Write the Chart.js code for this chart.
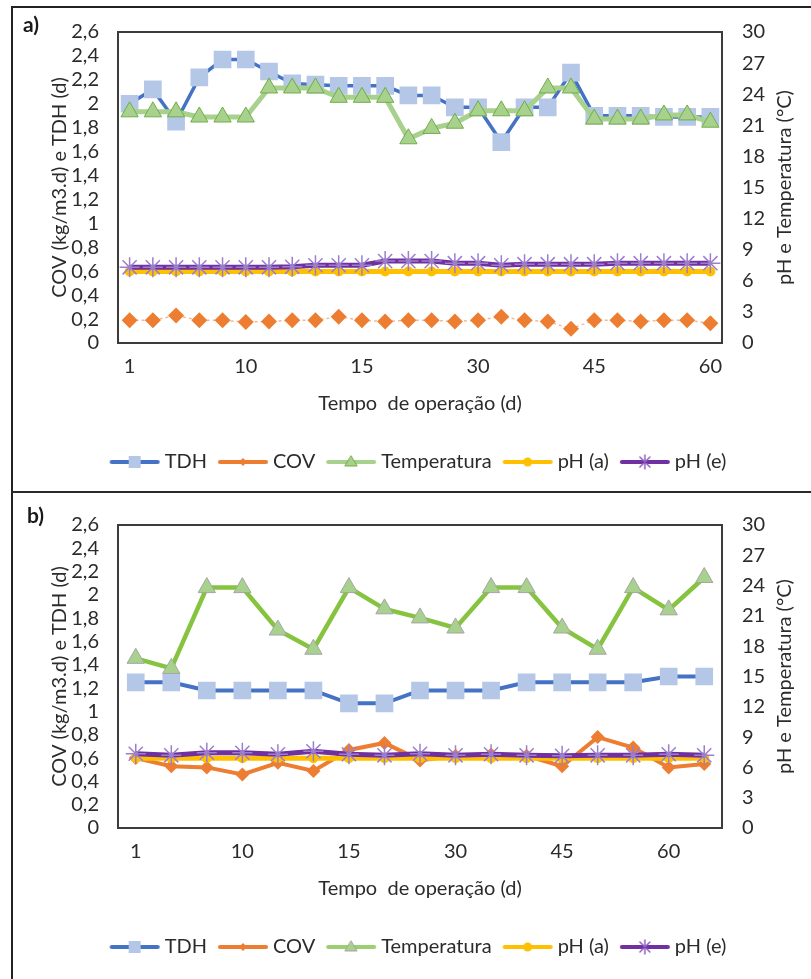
<!DOCTYPE html>
<html><head><meta charset="utf-8">
<script src="https://cdn.jsdelivr.net/npm/chart.js@4.4.1/dist/chart.umd.min.js"></script>
<style>
html,body{margin:0;padding:0;background:#fff;overflow:hidden;width:811px;height:979px;}
#frame{position:absolute;left:11px;top:6px;width:900px;height:1000px;border-left:2px solid #222;border-top:2px solid #222;box-sizing:border-box;}
#sep{position:absolute;left:11px;top:491px;width:900px;height:2px;background:#2a2a2a;}
.pl{position:absolute;font:bold 21px Lato, sans-serif;color:#1a1a1a;}
canvas{position:absolute;left:0;}
#ca{top:0;}
#cb{top:493px;}
</style></head>
<body>
<div id="frame"></div>
<div id="sep"></div>
<canvas id="ca" width="811" height="491"></canvas>
<canvas id="cb" width="811" height="486"></canvas>
<div class="pl" style="left:23px;top:11px;">a)</div>
<div class="pl" style="left:27px;top:502px;">b)</div>
<script>
// ---------- data: panel a ----------
const labelsA = ['1','','','','','10','','','','','15','','','','','30','','','','','45','','','','','60'];
const tdhA  = [2.00,2.12,1.85,2.22,2.37,2.37,2.27,2.17,2.16,2.15,2.15,2.15,2.07,2.07,1.97,1.97,1.68,1.97,1.97,2.26,1.90,1.90,1.90,1.89,1.89,1.89];
const covA  = [0.19,0.19,0.23,0.19,0.19,0.175,0.18,0.19,0.19,0.22,0.19,0.18,0.19,0.19,0.18,0.19,0.22,0.19,0.18,0.12,0.19,0.19,0.18,0.19,0.19,0.165];
const tempA = [22.3,22.3,22.3,21.8,21.8,21.8,24.6,24.6,24.6,23.7,23.7,23.7,19.7,20.7,21.2,22.4,22.4,22.4,24.6,24.6,21.6,21.6,21.6,22.0,22.0,21.3];
const phaA  = [6.9,6.9,6.9,6.9,6.9,6.9,6.9,6.9,6.9,6.9,6.9,6.9,6.9,6.9,6.9,6.9,6.9,6.9,6.9,6.9,6.9,6.9,6.9,6.9,6.9,6.9];
const pheA  = [7.3,7.3,7.3,7.3,7.3,7.3,7.3,7.35,7.5,7.5,7.5,7.9,7.9,7.9,7.7,7.7,7.5,7.6,7.6,7.6,7.6,7.7,7.7,7.7,7.7,7.7];
// ---------- data: panel b ----------
const labelsB = ['1','','','10','','','15','','','30','','','45','','','60',''];
const tdhB  = [1.25,1.25,1.18,1.18,1.18,1.18,1.07,1.07,1.18,1.18,1.18,1.25,1.25,1.25,1.25,1.30,1.30];
const covB  = [0.60,0.53,0.52,0.46,0.56,0.49,0.67,0.73,0.58,0.62,0.63,0.62,0.53,0.78,0.69,0.52,0.55];
const tempB = [16.8,15.8,23.8,23.8,19.6,17.7,23.8,21.7,20.8,19.8,23.8,23.8,19.8,17.7,23.8,21.6,24.8];
const phaB  = [6.9,6.9,6.9,6.9,6.9,6.9,6.9,6.9,6.9,6.9,6.9,6.9,6.9,6.9,6.9,6.9,6.9];
const pheB  = [7.35,7.2,7.45,7.45,7.3,7.6,7.3,7.2,7.35,7.2,7.3,7.2,7.15,7.2,7.2,7.3,7.2];
// ---------- text ----------
const seriesNames = ['TDH','COV','Temperatura','pH (a)','pH (e)'];
const xTitle = 'Tempo  de operação (d)';
const yTitle = 'COV (kg/m3.d) e TDH (d)';
const y1Title = 'pH e Temperatura (°C)';

const FONT = 'Lato, "Open Sans", sans-serif';
const FS = 20;
const TXT = '#2b2b2b';

function legendImg(kind, lineColor, fill, stroke) {
  const c = document.createElement('canvas');
  c.width = 52; c.height = 16;
  const g = c.getContext('2d');
  g.strokeStyle = lineColor; g.lineWidth = 4; g.lineCap = 'round';
  g.beginPath(); g.moveTo(3, 8); g.lineTo(49, 8); g.stroke();
  const x = 26, y = 8;
  g.fillStyle = fill; g.strokeStyle = stroke; g.lineWidth = 1;
  if (kind === 'rect') { g.fillRect(x - 6, y - 6, 12, 12); }
  else if (kind === 'diamond') { g.beginPath(); g.moveTo(x, y-4); g.lineTo(x+4, y); g.lineTo(x, y+4); g.lineTo(x-4, y); g.closePath(); g.fill(); }
  else if (kind === 'tri') { g.beginPath(); g.moveTo(x, y-6); g.lineTo(x+6, y+4); g.lineTo(x-6, y+4); g.closePath(); g.fill(); g.stroke(); }
  else if (kind === 'circle') { g.beginPath(); g.arc(x, y, 4.5, 0, Math.PI*2); g.fill(); }
  else if (kind === 'star') {
    g.lineWidth = 1.5; g.beginPath();
    g.moveTo(x, y-7); g.lineTo(x, y+7);
    g.moveTo(x-5, y-5); g.lineTo(x+5, y+5);
    g.moveTo(x-5, y+5); g.lineTo(x+5, y-5);
    g.stroke();
  }
  return c;
}

const framePlugin = {
  id: 'frame',
  beforeDatasetsDraw(chart) {
    const a = chart.chartArea, ctx = chart.ctx;
    ctx.save(); ctx.strokeStyle = '#3c3c3c'; ctx.lineWidth = 2;
    ctx.strokeRect(a.left, a.top, a.right - a.left, a.bottom - a.top);
    ctx.restore();
  }
};
const rightTitlePlugin = {
  id: 'rtitle',
  afterDraw(chart, args, opts) {
    const a = chart.chartArea, ctx = chart.ctx;
    ctx.save();
    ctx.translate(opts.x, (a.top + a.bottom) / 2);
    ctx.rotate(-Math.PI / 2);
    ctx.font = FS + 'px ' + FONT;
    ctx.fillStyle = TXT; ctx.textAlign = 'center'; ctx.textBaseline = 'middle';
    ctx.fillText(opts.text, 0, 0);
    ctx.restore();
  }
};

function fmt(v) { return String(Math.round(v * 10) / 10).replace('.', ','); }

function build(id, labels, tdh, cov, temp, pha, phe, st) {
  const legendItems = [
    {text: seriesNames[0], img: legendImg('rect', '#4472C4', '#B4C7E7', '#B4C7E7')},
    {text: seriesNames[1], img: legendImg('diamond', '#ED7D31', '#ED7D31', '#ED7D31')},
    {text: seriesNames[2], img: legendImg('tri', st.legTemp, '#A9D18E', st.triBorder)},
    {text: seriesNames[3], img: legendImg('circle', '#FFC000', '#FFC000', '#FFC000')},
    {text: seriesNames[4], img: legendImg('star', '#7030A0', '#7030A0', '#8E63C4')}
  ];
  return new Chart(document.getElementById(id), {
    type: 'line',
    data: {
      labels: labels,
      datasets: [
        {label: seriesNames[0], data: tdh, yAxisID: 'y', order: 5, borderColor: '#4472C4', borderWidth: st.tdhW,
         pointStyle: 'rect', pointRadius: 12.5, pointBackgroundColor: '#B4C7E7', pointBorderColor: '#B4C7E7', pointBorderWidth: 0},
        {label: seriesNames[1], data: cov, yAxisID: 'y', order: 4, borderColor: st.covLine, borderWidth: st.covW, borderDash: st.covDash,
         pointStyle: 'rectRot', pointRadius: st.covR, pointBackgroundColor: '#ED7D31', pointBorderColor: '#ED7D31', pointBorderWidth: 0},
        {label: seriesNames[2], data: temp, yAxisID: 'y1', order: 3, borderColor: st.tempLine, borderWidth: st.tempW,
         pointStyle: 'triangle', pointRadius: 10, pointBackgroundColor: '#A9D18E', pointBorderColor: st.triBorder, pointBorderWidth: 1},
        {label: seriesNames[3], data: pha, yAxisID: 'y1', order: 2, borderColor: '#FFC000', borderWidth: 5,
         pointStyle: 'circle', pointRadius: 5, pointBackgroundColor: '#FFC000', pointBorderColor: '#FFC000', pointBorderWidth: 0},
        {label: seriesNames[4], data: phe, yAxisID: 'y1', order: 1, borderColor: '#7030A0', borderWidth: 5,
         pointStyle: 'star', pointRadius: 10, pointBackgroundColor: '#9C7FCC', pointBorderColor: '#9C7FCC', pointBorderWidth: 1.5}
      ]
    },
    options: {
      responsive: false, animation: false, events: [],
      layout: {padding: st.pad},
      plugins: {
        tooltip: {enabled: false},
        rtitle: {x: 785, text: y1Title},
        legend: {
          position: 'bottom', align: 'center',
          labels: {
            usePointStyle: true, pointStyleWidth: 40, padding: 16,
            font: {family: FONT, size: FS}, color: TXT,
            generateLabels: () => legendItems.map((it, i) => ({
              text: it.text, pointStyle: it.img, fillStyle: '#fff', strokeStyle: '#fff', lineWidth: 0,
              hidden: false, datasetIndex: i, fontColor: TXT
            }))
          }
        }
      },
      scales: {
        x: {
          type: 'category', offset: true,
          grid: {display: false, drawTicks: false}, border: {display: false},
          ticks: {autoSkip: false, maxRotation: 0, minRotation: 0, padding: 12, color: TXT, font: {family: FONT, size: FS}},
          title: {display: true, text: xTitle, color: TXT, font: {family: FONT, size: FS}, padding: {top: 0, bottom: 20}},
          afterFit: s => { s.height = 93; }
        },
        y: {
          position: 'left', min: 0, max: 2.6,
          grid: {display: false, drawTicks: false}, border: {display: false},
          ticks: {stepSize: 0.2, maxTicksLimit: 30, autoSkip: false, padding: 19, color: TXT, font: {family: FONT, size: FS}, callback: v => fmt(v)},
          title: {display: true, text: yTitle, color: TXT, font: {family: FONT, size: FS}, padding: {top: 18, bottom: 0}},
          afterFit: s => { s.width = 88; }
        },
        y1: {
          position: 'right', min: 0, max: 30,
          grid: {display: false, drawTicks: false}, border: {display: false},
          ticks: {stepSize: 3, maxTicksLimit: 30, autoSkip: false, padding: 20, color: TXT, font: {family: FONT, size: FS}, callback: v => fmt(v)},
          afterFit: s => { s.width = 89; }
        }
      }
    },
    plugins: [framePlugin, rightTitlePlugin]
  });
}

build('ca', labelsA, tdhA, covA, tempA, phaA, pheA, {
  pad: {left: 30, right: 0, top: 31, bottom: 9},
  tdhW: 3.5, covLine: 'rgba(244,177,131,0.9)', covW: 1.5, covDash: [3, 3], covR: 8,
  tempLine: '#A9D18E', tempW: 5, triBorder: '#70AD47', legTemp: '#A9D18E'
});
build('cb', labelsB, tdhB, covB, tempB, phaB, pheB, {
  pad: {left: 30, right: 0, top: 25, bottom: 12},
  tdhW: 4, covLine: '#ED7D31', covW: 4, covDash: [], covR: 7,
  tempLine: '#86C440', tempW: 4.5, triBorder: '#A5A5A5', legTemp: '#9BCF72'
});
</script>
</body></html>
